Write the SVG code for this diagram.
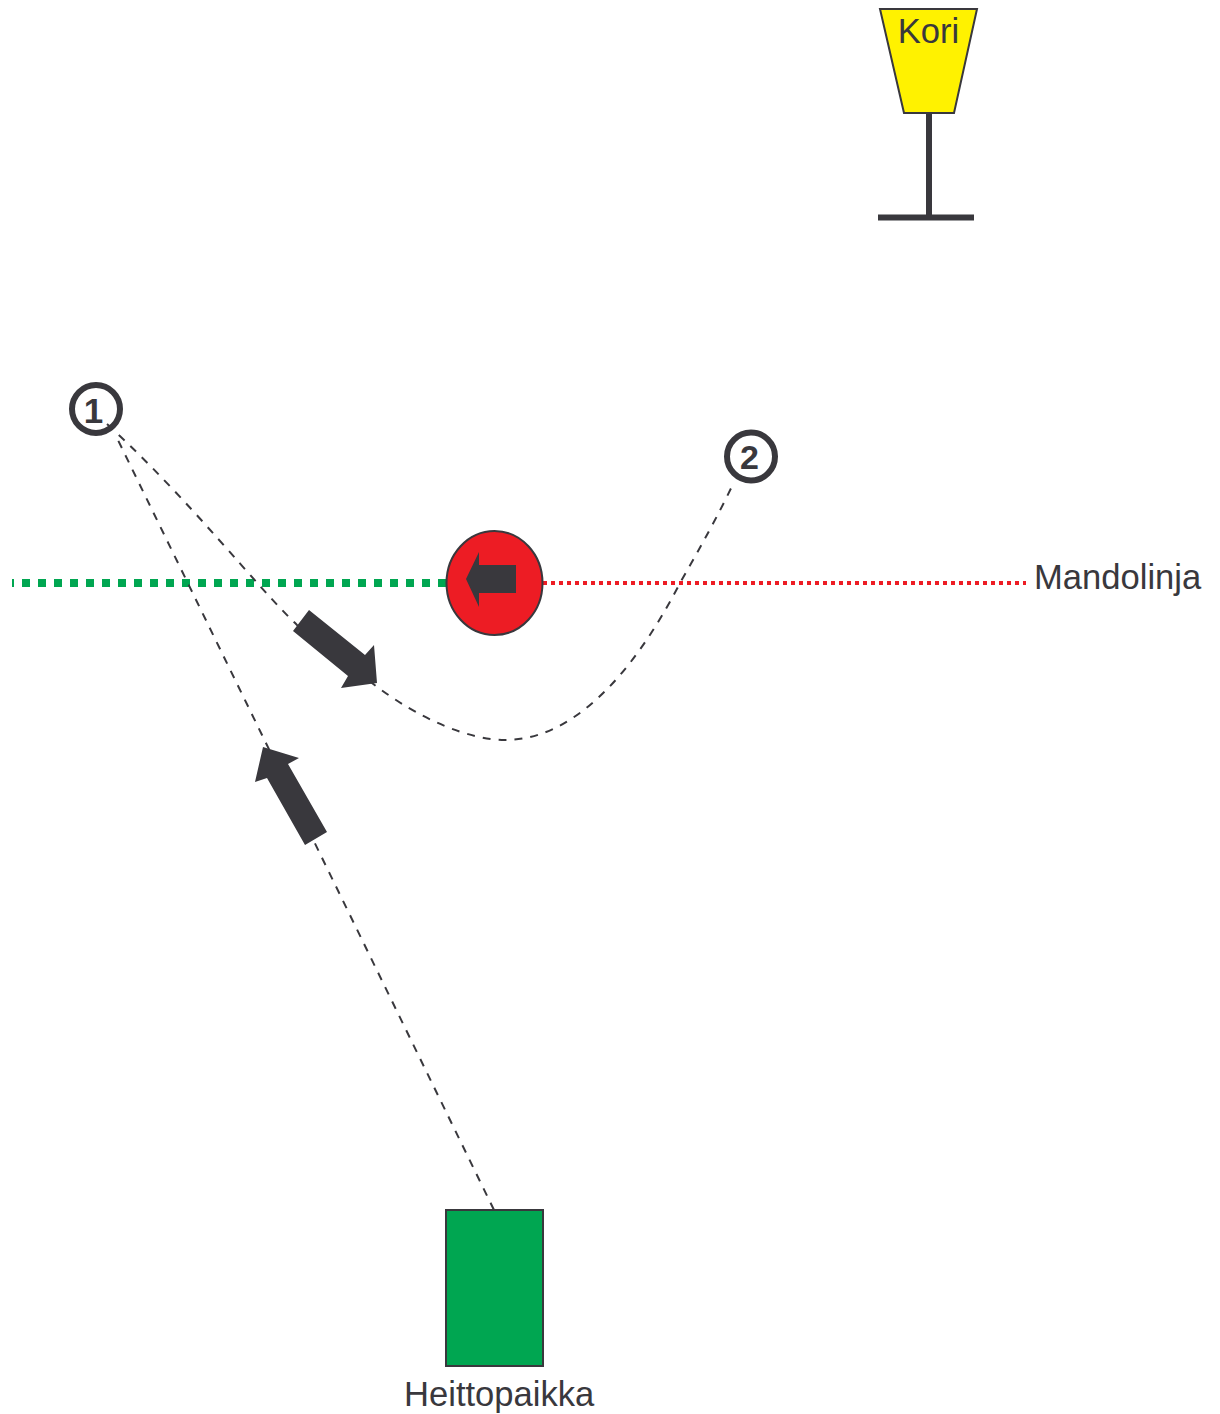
<svg xmlns="http://www.w3.org/2000/svg" width="1220" height="1414" viewBox="0 0 1220 1414">
<style>
text{font-family:"Liberation Sans",Arial,sans-serif;fill:#39383d}
.lbl{font-size:34.600px}
.num{font-weight:bold;text-anchor:middle}
.dash{fill:none;stroke:#39383d;stroke-width:2;stroke-dasharray:8 8}
.ring{fill:#fff;stroke:#39383d;stroke-width:6}
.arrow{fill:#39383d}
</style>
<rect width="1220" height="1414" fill="#fff"/>
<g id="node-1"><circle class="ring" cx="96" cy="409" r="24"/><text class="num" x="93.500" y="423" font-size="35">1</text></g>
<g id="node-2"><circle class="ring" cx="751" cy="456.500" r="24"/><text class="num" x="749.500" y="469" font-size="34">2</text></g>
<g id="connectors">
<path id="line-green" d="M12 583H446" fill="none" stroke="#00a651" stroke-width="8" stroke-dasharray="8 8" stroke-dashoffset="6"/>
<path id="line-red" d="M543 583H1026" fill="none" stroke="#ed1c24" stroke-width="4" stroke-dasharray="4 4"/>
<path class="dash" d="M494 1210L116 436"/>
<path class="dash" d="M107 424C190 500 255 585 297 625C320 645 350 670 372 683C420 720 470 740 505 740C570 740 630 680 680 583C700 548 720 512 734 482"/>
</g>
<g id="arrow-up"><path class="arrow" d="M305 845L327 832L288 764L299 758L263 747L255 782L267 778Z"/></g>
<g id="arrow-down"><path class="arrow" d="M293 631L309 610L365 655L374 645L377 683L341 688L348 676Z"/></g>
<g id="kori">
<path d="M880 9H977L954 113H904Z" fill="#fff200" stroke="#39383d" stroke-width="2"/>
<path d="M929 113V217.500M878 217.500H974" fill="none" stroke="#39383d" stroke-width="6"/>
<text class="lbl" x="928.500" y="43" text-anchor="middle">Kori</text>
</g>
<g id="disc">
<ellipse cx="494.500" cy="583" rx="48" ry="52" fill="#ed1c24" stroke="#39383d" stroke-width="2"/>
<path class="arrow" d="M516 565H479V552L466 579L479 607V593H516Z"/>
</g>
<g id="mandolinja"><text class="lbl" x="1034" y="589">Mandolinja</text></g>
<g id="heittopaikka">
<rect x="446" y="1210" width="97" height="156" fill="#00a651" stroke="#39383d" stroke-width="2"/>
<text class="lbl" x="404" y="1406">Heittopaikka</text>
</g>
</svg>
